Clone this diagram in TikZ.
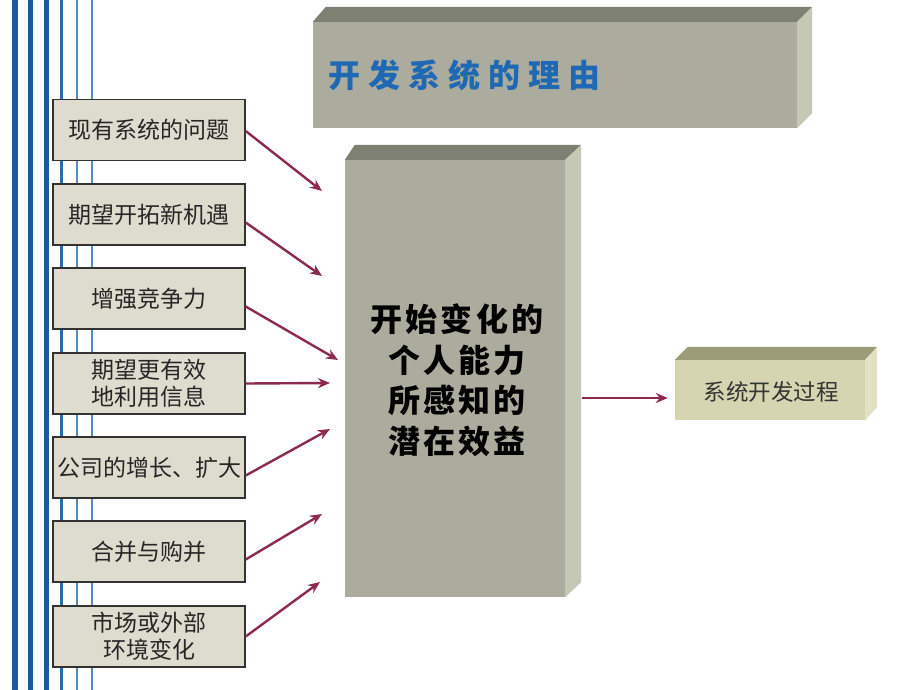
\documentclass[tikz,border=0pt]{standalone}
\usepackage{fontspec}
\usetikzlibrary{arrows.meta}
\newfontfamily\cjk{Noto Sans CJK SC}
\newfontfamily\cjktitle[LetterSpace=25]{Noto Sans CJK SC}
\newfontfamily\cjkmid[LetterSpace=10]{Noto Sans CJK SC}
\definecolor{stripeA}{HTML}{1B5A9B}
\definecolor{stripeB}{HTML}{2A6CB0}
\definecolor{stripeC}{HTML}{4F8CC8}
\definecolor{boxfill}{HTML}{DEDCCE}
\definecolor{gfront}{HTML}{ABAC9D}
\definecolor{gtop}{HTML}{7F8074}
\definecolor{gside}{HTML}{C6C8B6}
\definecolor{ofront}{HTML}{D6D5B1}
\definecolor{otop}{HTML}{9D9C78}
\definecolor{oside}{HTML}{E2E1C2}
\definecolor{arrowc}{HTML}{8C2A52}
\definecolor{titleblue}{HTML}{1F69B4}
\tikzset{
  leftbox/.style={draw=black!80, line width=1.4pt, fill=boxfill, minimum width=192pt,
    minimum height=61pt, inner sep=0pt, align=center, text=black!85,
    font=\cjk\fontsize{23}{27}\selectfont},
  conn/.style={draw=arrowc, line width=2.4pt, -{Stealth[length=12pt,width=10pt]}},
}
\begin{document}
\begin{tikzpicture}[x=1pt,y=-1pt]
\useasboundingbox (0,0) rectangle (920,690);
\fill[white] (0,0) rectangle (920,690);
% stripes
\draw[stripeA, line width=6.5pt] (15,0) -- (15,690);
\draw[stripeA, line width=5.6pt] (30.5,0) -- (30.5,690);
\draw[stripeA, line width=4.5pt] (46.3,0) -- (46.3,690);
\draw[stripeB, line width=3pt] (61.3,0) -- (61.3,690);
\draw[stripeC, line width=2pt] (77,0) -- (77,690);
\draw[stripeC, line width=1.8pt] (91.7,0) -- (91.7,690);

% title 3D box
\node[fill=gfront, minimum width=484pt, minimum height=106pt, inner sep=0pt] (title) at (555,75) {};
\fill[gtop] (title.north west) -- ++(13,-15) -- ([shift={(15,-15)}]title.north east) -- (title.north east) -- cycle;
\fill[gside] (title.north east) -- ++(15,-15) -- ([shift={(15,-15)}]title.south east) -- (title.south east) -- cycle;
\node[anchor=west, inner sep=0pt, text=titleblue, font=\cjktitle\bfseries\fontsize{32}{36}\selectfont] (titletext) at (328,75) {开发系统的理由};

% centre 3D box
\node[fill=gfront, minimum width=220pt, minimum height=437pt, inner sep=0pt] (mid) at (455,378.5) {};
\fill[gtop] (mid.north west) -- ++(10,-15) -- ([shift={(16,-15)}]mid.north east) -- (mid.north east) -- cycle;
\fill[gside] (mid.north east) -- ++(16,-15) -- ([shift={(16,-15)}]mid.south east) -- (mid.south east) -- cycle;
\node[inner sep=0pt, align=center, text=black, font=\cjkmid\bfseries\fontsize{32}{40.5}\selectfont] (midtext) at (457,380) {开始变化的\\个人能力\\所感知的\\潜在效益};

% process 3D box
\node[fill=ofront, minimum width=190pt, minimum height=60pt, inner sep=0pt] (proc) at (770,390) {};
\fill[otop] (proc.north west) -- ++(13,-13) -- ([shift={(12,-13)}]proc.north east) -- (proc.north east) -- cycle;
\fill[oside] (proc.north east) -- ++(12,-13) -- ([shift={(12,-13)}]proc.south east) -- (proc.south east) -- cycle;
\node[inner sep=0pt, text=black!80, font=\cjk\fontsize{22.5}{26}\selectfont] (proctext) at (771,392) {系统开发过程};

% left boxes
\node[leftbox] (b1) at (149,130) {现有系统的问题};
\node[leftbox] (b2) at (149,214.5) {期望开拓新机遇};
\node[leftbox] (b3) at (149,298.5) {增强竞争力};
\node[leftbox] (b4) at (149,383.5) {期望更有效\\地利用信息};
\node[leftbox] (b5) at (149,467.5) {公司的增长、扩大};
\node[leftbox] (b6) at (149,551.5) {合并与购并};
\node[leftbox] (b7) at (149,636.5) {市场或外部\\环境变化};

% arrow end points
\coordinate (e1) at (322,191);
\coordinate (e2) at (322,276);
\coordinate (e3) at (338,360);
\coordinate (e4) at (330,383);
\coordinate (e5) at (330,429);
\coordinate (e6) at (322,514);
\coordinate (e7) at (320,582);
\coordinate (o1) at (582,398);

\draw[conn] ([yshift=-1pt]b1.east) -- (e1);
\draw[conn] ([yshift=-8pt]b2.east) -- (e2);
\draw[conn] ([yshift=-8pt]b3.east) -- (e3);
\draw[conn] (b4.east) -- (e4);
\draw[conn] ([yshift=-8pt]b5.east) -- (e5);
\draw[conn] ([yshift=-8pt]b6.east) -- (e6);
\draw[conn] (b7.east) -- (e7);
\draw[conn, shorten >=7pt] (o1) -- ([yshift=-8pt]proc.west);
\end{tikzpicture}
\end{document}
